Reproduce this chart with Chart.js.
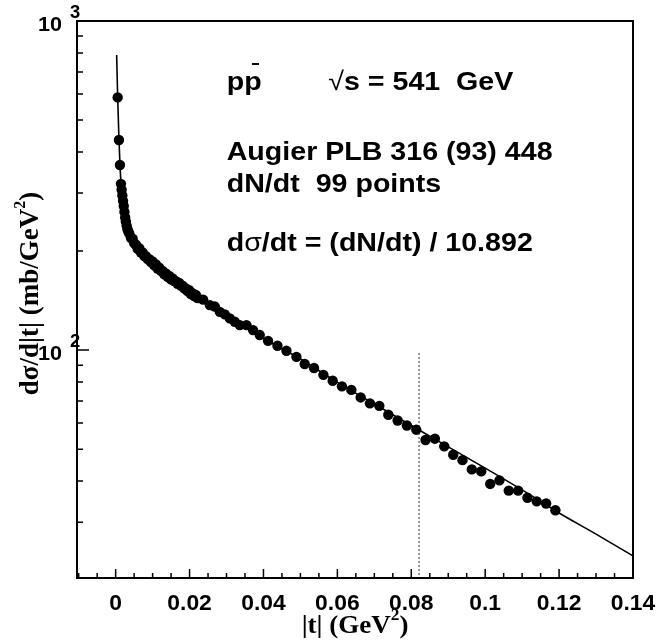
<!DOCTYPE html>
<html lang="en">
<head>
<meta charset="UTF-8" />
<title>pp̄ √s = 541 GeV — dσ/dt</title>
<script src="https://cdn.jsdelivr.net/npm/chart.js"></script>
<style>
  body { margin: 0; background: #fff; }
  #grafica { display: block; }
</style>
</head>
<body>
<canvas id="grafica" width="658" height="640"></canvas>
<script>
  // measured points, |t| in GeV^2
  const tPoints = [
    0.00054, 0.00089, 0.00116, 0.00143, 0.00162, 0.00181, 0.00200, 0.00219, 0.00238, 0.00257,
    0.00276, 0.00297, 0.00320, 0.00345,
    0.0037, 0.00415, 0.0046, 0.00505, 0.0055, 0.00595, 0.0064, 0.00685, 0.0073, 0.00775,
    0.0082, 0.00865, 0.0091, 0.00955, 0.0100, 0.01045, 0.0109, 0.01135, 0.0118, 0.01225,
    0.0127, 0.01315, 0.0136, 0.01405, 0.0145, 0.01495, 0.0154, 0.01585, 0.0163, 0.01675,
    0.0172, 0.01765, 0.0181, 0.01855, 0.0190, 0.01945, 0.0199, 0.02035, 0.0208, 0.02125,
    0.0217, 0.02215,
    0.02368, 0.02549, 0.02684, 0.02819, 0.02954, 0.03089, 0.03224, 0.0336, 0.0354, 0.03719, 0.0390,
    0.04124, 0.04378, 0.04622, 0.04892, 0.05116, 0.05368, 0.05622, 0.05873, 0.06124, 0.06378,
    0.0663, 0.06881, 0.07135, 0.07378, 0.0763, 0.07881, 0.08135, 0.08386, 0.08638, 0.08892,
    0.09135, 0.09386, 0.09638, 0.09892, 0.10135, 0.10386, 0.10638, 0.10892, 0.11143, 0.11394,
    0.11649, 0.1190
  ];
  // dsigma/dt in mb/GeV^2
  const dsdtPoints = [
    586, 435, 365, 320, 307, 295, 284, 274, 263, 253,
    246, 239, 233, 229,
    226, 219, 218, 211, 209, 203, 204, 198, 198, 193,
    193, 189, 189, 185, 186, 181, 182, 177, 178, 174,
    174, 170, 171, 167, 168, 164, 165, 162, 162, 159,
    160, 157, 157, 154, 154, 151, 152, 148, 149, 146,
    147, 144,
    142.4, 137.0, 135.6, 130.7, 128.4, 124.8, 121.9, 119.1, 119.1, 115.0, 111.1,
    106.7, 103.1, 99.5, 95.4, 90.7, 88.2, 84.1, 80.7, 77.6, 75.7,
    71.8, 68.9, 67.7, 63.6, 61.1, 59.0, 57.3, 53.3, 53.8, 51.0,
    48.1, 46.3, 43.4, 42.8, 39.2, 40.2, 37.4, 37.4, 35.6, 34.7,
    34.2, 32.6
  ];

  // fitted curve
  const fitT = [0.00027, 0.00054, 0.00089, 0.00116, 0.0015, 0.002, 0.0025, 0.003, 0.004, 0.005,
    0.0065, 0.008, 0.010, 0.0125, 0.015, 0.0175, 0.020, 0.025, 0.030, 0.035, 0.040, 0.045,
    0.050, 0.060, 0.070, 0.080, 0.090, 0.100, 0.110, 0.120, 0.130, 0.140];
  const fitDsdt = [788, 590, 440, 368, 316, 284, 256, 238, 222, 212,
    202, 193.5, 184.5, 174, 165.3, 158.5, 150.5, 138.5, 127, 117, 108.5, 101,
    94, 79.8, 68.6, 59.0, 50.8, 43.8, 37.6, 32.0, 27.6, 23.7];

  // dotted marker line
  const cutT = [0.0821, 0.0821];
  const cutDsdt = [98, 20.3];

  const xTickVals = [0, 0.02, 0.04, 0.06, 0.08, 0.10, 0.12, 0.14];
  const xTickLabels = ['0', '0.02', '0.04', '0.06', '0.08', '0.1', '0.12', '0.14'];
  const yDecades = [100, 1000];
  const yExponents = ['2', '3'];

  const SANS = '"Liberation Sans", Arial, sans-serif';
  const SERIF = '"Liberation Serif", "Times New Roman", serif';

  function texto(ctx, s, x, y, font, sx, align) {
    ctx.save();
    ctx.font = font;
    const w = ctx.measureText(s).width;
    ctx.translate(x, y);
    ctx.scale(sx, 1);
    let x0 = 0;
    if (align === 'center') x0 = -w / 2;
    if (align === 'right') x0 = -w;
    ctx.fillText(s, x0, 0);
    ctx.restore();
    return w * sx;
  }

  // frame, inward ticks, labels and text
  const marco = {
    id: 'marco',
    afterDraw(chart) {
      const { ctx, chartArea: a, scales: { x, y } } = chart;
      ctx.save();
      ctx.fillStyle = '#000';
      ctx.strokeStyle = '#000';

      ctx.lineWidth = 1.5;
      ctx.beginPath();
      for (let k = -2; k <= 28; k++) {
        const px = x.getPixelForValue(k * 0.005);
        const len = k % 4 === 0 ? 9 : 5;
        ctx.moveTo(px, a.bottom);
        ctx.lineTo(px, a.bottom - len);
      }
      for (let d = 10; d <= 100; d *= 10) {
        for (let m = 1; m <= 10; m++) {
          const v = d * m;
          if (v < y.min || v > y.max) continue;
          const py = y.getPixelForValue(v);
          const len = (m === 1 || m === 10) ? 12 : 6;
          ctx.moveTo(a.left, py);
          ctx.lineTo(a.left + len, py);
        }
      }
      ctx.stroke();

      ctx.lineWidth = 2;
      ctx.strokeRect(a.left, a.top, a.right - a.left, a.bottom - a.top);

      // x tick labels
      ctx.textBaseline = 'alphabetic';
      xTickVals.forEach((v, i) => {
        texto(ctx, xTickLabels[i], x.getPixelForValue(v), 610, 'bold 22px ' + SANS, 1.04, 'center');
      });

      // y decade labels
      yDecades.forEach((v, i) => {
        const py = y.getPixelForValue(v);
        texto(ctx, '10', 62, py + 10, 'bold 20px ' + SANS, 1.08, 'right');
        texto(ctx, yExponents[i], 70, py - 3, 'bold 18px ' + SANS, 1.02, 'left');
      });

      // axis titles
      const cx = (a.left + a.right) / 2;
      ctx.font = 'bold 25px ' + SERIF;
      const w1 = ctx.measureText('|t| (GeV').width * 1.08;
      ctx.font = 'bold 16px ' + SERIF;
      const w2 = ctx.measureText('2').width * 1.08;
      ctx.font = 'bold 25px ' + SERIF;
      const w3 = ctx.measureText(')').width * 1.08;
      let xs = cx - (w1 + w2 + w3) / 2;
      xs += texto(ctx, '|t| (GeV', xs, 633, 'bold 25px ' + SERIF, 1.08, 'left');
      xs += texto(ctx, '2', xs, 620, 'bold 16px ' + SERIF, 1.08, 'left');
      texto(ctx, ')', xs, 633, 'bold 25px ' + SERIF, 1.08, 'left');

      ctx.save();
      ctx.translate(38, (a.top + a.bottom) / 2 - 6);
      ctx.rotate(-Math.PI / 2);
      ctx.font = 'bold 27px ' + SERIF;
      const v1 = ctx.measureText('d\u03C3/d|t| (mb/GeV').width;
      ctx.font = 'bold 16px ' + SERIF;
      const v2 = ctx.measureText('2').width;
      ctx.font = 'bold 27px ' + SERIF;
      const v3 = ctx.measureText(')').width;
      let ys = -(v1 + v2 + v3) / 2;
      ys += texto(ctx, 'd\u03C3/d|t| (mb/GeV', ys, 0, 'bold 27px ' + SERIF, 1, 'left');
      ys += texto(ctx, '2', ys, -13, 'bold 16px ' + SERIF, 1, 'left');
      texto(ctx, ')', ys, 0, 'bold 27px ' + SERIF, 1, 'left');
      ctx.restore();

      // annotation
      const F = 'bold 26px ' + SANS;
      const R = '26px ' + SANS;
      const S = 1.1;
      const wp = texto(ctx, 'p', 226.7, 90, F, S, 'left');
      texto(ctx, 'p', 226.7 + wp, 90, F, S, 'left');
      ctx.lineWidth = 2;
      ctx.beginPath();
      ctx.moveTo(226.7 + wp * 1.45, 64);
      ctx.lineTo(226.7 + wp * 1.85, 64);
      ctx.stroke();
      let xa = 328.3;
      xa += texto(ctx, '\u221A', xa, 90, R, S, 'left');
      texto(ctx, 's = 541  GeV', xa, 90, F, S, 'left');

      texto(ctx, 'Augier PLB 316 (93) 448', 226.7, 160, F, S, 'left');
      texto(ctx, 'dN/dt  99 points', 226.7, 191.7, F, S, 'left');

      xa = 226.7;
      xa += texto(ctx, 'd', xa, 250.7, F, S, 'left');
      xa += texto(ctx, '\u03C3', xa, 250.7, R, S, 'left');
      texto(ctx, '/dt = (dN/dt) / 10.892', xa, 250.7, F, S, 'left');

      ctx.restore();
    }
  };

  const puntos = tPoints.map((t, i) => ({ x: t, y: dsdtPoints[i] }));
  const ajuste = fitT.map((t, i) => ({ x: t, y: fitDsdt[i] }));
  const corte = cutT.map((t, i) => ({ x: t, y: cutDsdt[i] }));

  new Chart(document.getElementById('grafica').getContext('2d'), {
    type: 'scatter',
    data: {
      datasets: [
        {
          label: 'Augier PLB 316 (93) 448',
          data: puntos,
          backgroundColor: '#000',
          borderWidth: 0,
          pointRadius: 5.2
        },
        {
          type: 'line',
          label: 'fit',
          data: ajuste,
          borderColor: '#000',
          borderWidth: 1.6,
          pointRadius: 0,
          fill: false,
          cubicInterpolationMode: 'monotone'
        },
        {
          type: 'line',
          label: 'cut',
          data: corte,
          borderColor: '#777',
          borderWidth: 1.5,
          borderDash: [2, 2],
          pointRadius: 0,
          fill: false
        }
      ]
    },
    options: {
      responsive: false,
      animation: false,
      layout: { padding: { top: 21, right: 25, left: 0, bottom: 0 } },
      plugins: { legend: { display: false }, tooltip: { enabled: false } },
      scales: {
        x: {
          type: 'linear',
          min: -0.01046,
          max: 0.14,
          grid: { display: false, drawTicks: false },
          border: { display: false },
          ticks: { display: false },
          afterFit(s) { s.height = 62; }
        },
        y: {
          type: 'logarithmic',
          min: 20.3,
          max: 1000,
          grid: { display: false, drawTicks: false },
          border: { display: false },
          ticks: { display: false },
          afterFit(s) { s.width = 77; }
        }
      }
    },
    plugins: [marco]
  });
</script>
</body>
</html>
